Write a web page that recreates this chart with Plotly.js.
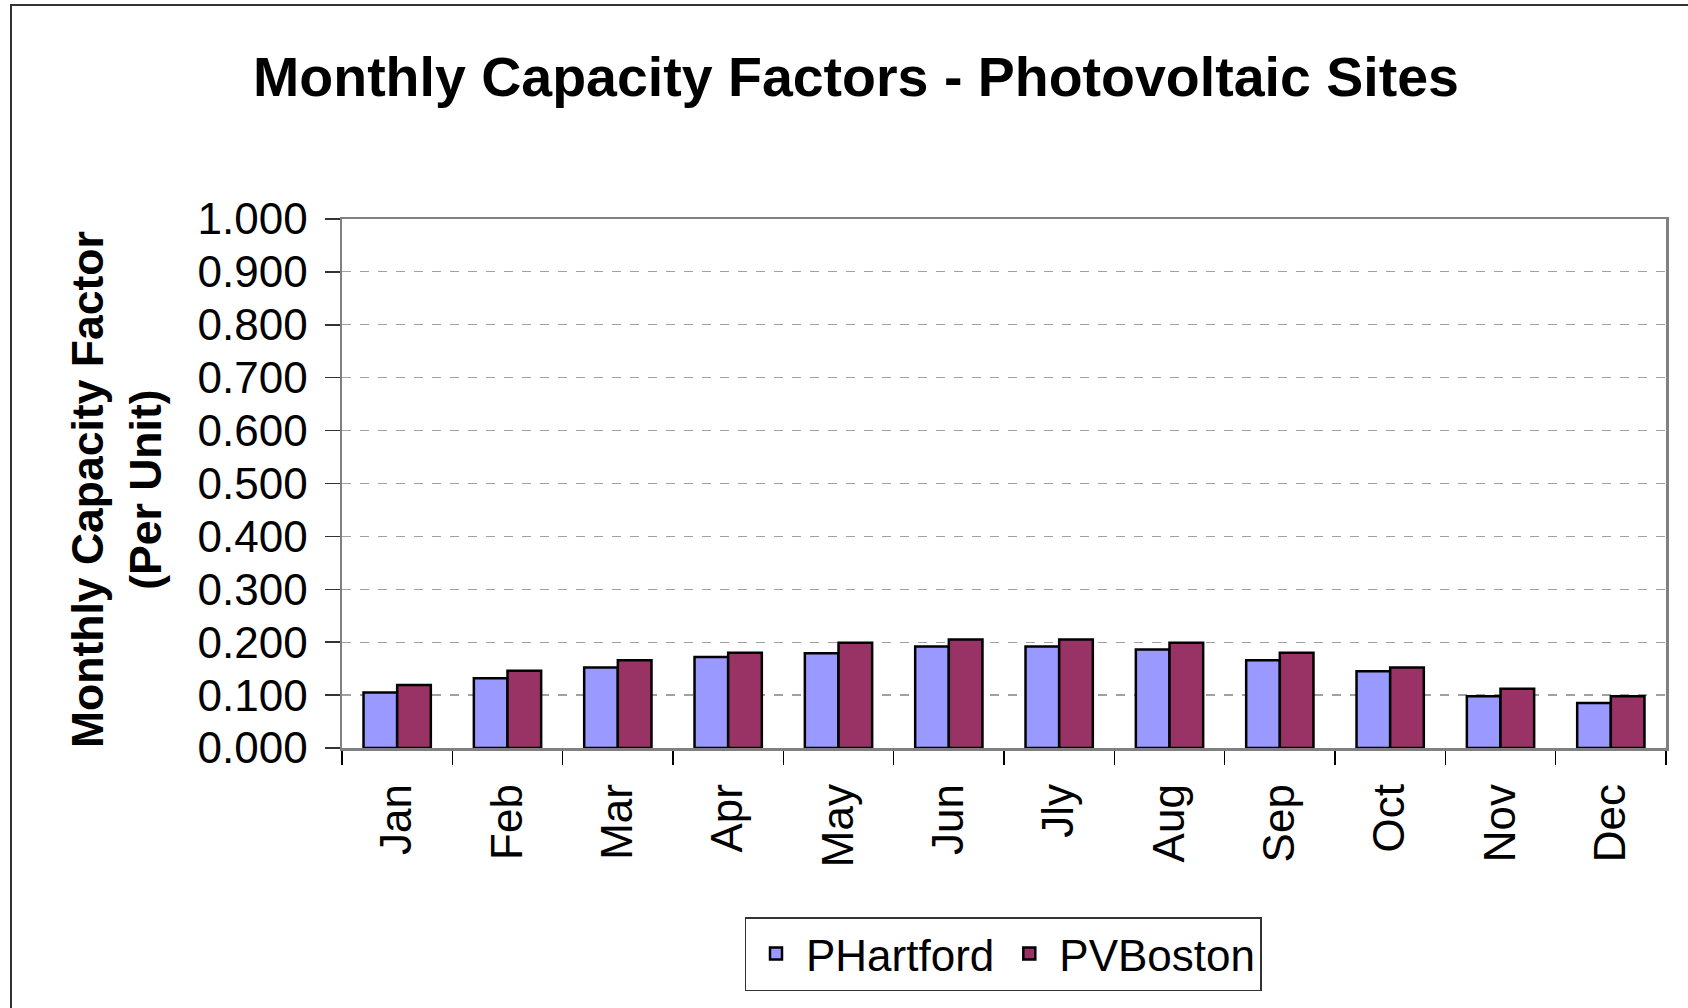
<!DOCTYPE html>
<html>
<head>
<meta charset="utf-8">
<script src="https://cdn.plot.ly/plotly-3.0.1.min.js"></script>
<style>
  html, body { margin: 0; padding: 0; background: #fff; }
  #chart { width: 1688px; height: 1008px; }
</style>
</head>
<body>
<div id="chart"></div>
<script>
const months = ["Jan", "Feb", "Mar", "Apr", "May", "Jun", "Jly", "Aug", "Sep", "Oct", "Nov", "Dec"];
const pHartford = [0.105, 0.132, 0.152, 0.172, 0.179, 0.192, 0.192, 0.186, 0.166, 0.145, 0.098, 0.085];
const pvBoston  = [0.119, 0.146, 0.166, 0.180, 0.199, 0.205, 0.205, 0.199, 0.180, 0.152, 0.112, 0.098];
const yTickVals = [0, 0.1, 0.2, 0.3, 0.4, 0.5, 0.6, 0.7, 0.8, 0.9, 1.0];

const FONT = "Liberation Sans, Arial, sans-serif";

const traces = [
  {
    type: "bar", name: "PHartford", x: months, y: pHartford,
    marker: { color: "#9999FF", line: { color: "#000000", width: 2.5 } }
  },
  {
    type: "bar", name: "PVBoston", x: months, y: pvBoston,
    marker: { color: "#993366", line: { color: "#000000", width: 2.5 } }
  }
];

const layout = {
  width: 1688, height: 1008,
  paper_bgcolor: "#ffffff", plot_bgcolor: "#ffffff",
  margin: { l: 342, r: 22, t: 219, b: 260 },
  font: { family: FONT, color: "#000" },
  barmode: "group",
  bargap: 0.39,
  bargroupgap: 0,
  showlegend: true,
  title: {
    text: "<b>Monthly Capacity Factors - Photovoltaic Sites</b>",
    font: { family: FONT, size: 55.5, color: "#000" },
    xref: "container", yref: "container",
    x: 856 / 1688, xanchor: "center",
    y: 1 - 77 / 1008, yanchor: "middle"
  },
  xaxis: {
    type: "category",
    tickson: "boundaries",
    ticks: "outside", ticklen: 14, tickwidth: 1.5, tickcolor: "#000",
    tickangle: -90,
    ticklabelstandoff: 16,
    tickfont: { family: FONT, size: 44, color: "#000" },
    showline: true, linecolor: "#808080", linewidth: 2.5, mirror: true,
    showgrid: false, zeroline: false
  },
  yaxis: {
    range: [0, 1.0],
    tickvals: yTickVals,
    tickformat: ".3f",
    ticks: "outside", ticklen: 15, tickwidth: 1.5, tickcolor: "#333",
    ticklabelstandoff: 8,
    tickfont: { family: FONT, size: 44, color: "#000" },
    showline: true, linecolor: "#808080", linewidth: 2.5, mirror: true,
    showgrid: true, gridcolor: "#a0a0a0", gridwidth: 1.2, griddash: "dash",
    zeroline: false
  },
  legend: {
    orientation: "h",
    xref: "paper", yref: "paper",
    x: (1003 - 342) / 1324, xanchor: "center",
    y: (748 - 917) / 529, yanchor: "top",
    bordercolor: "#333", borderwidth: 1.5,
    font: { family: FONT, size: 44, color: "#000" },
    itemwidth: 50,
    traceorder: "normal"
  },
  annotations: [
    {
      text: "<b>Monthly Capacity Factor<br>(Per Unit)</b>",
      xref: "paper", yref: "paper",
      x: (116 - 342) / 1324, y: (748 - 490) / 529,
      xanchor: "center", yanchor: "middle",
      textangle: -90, showarrow: false,
      font: { family: FONT, size: 44.5, color: "#000" }
    }
  ],
  shapes: [
    {
      type: "rect", xref: "paper", yref: "paper",
      x0: (11 - 342) / 1324, x1: 1.2,
      y0: -1.0, y1: (748 - 5) / 529,
      line: { color: "#333", width: 2 }, fillcolor: "rgba(0,0,0,0)", layer: "below"
    }
  ]
};

Plotly.newPlot("chart", traces, layout, { displayModeBar: false, staticPlot: true });
</script>
</body>
</html>
